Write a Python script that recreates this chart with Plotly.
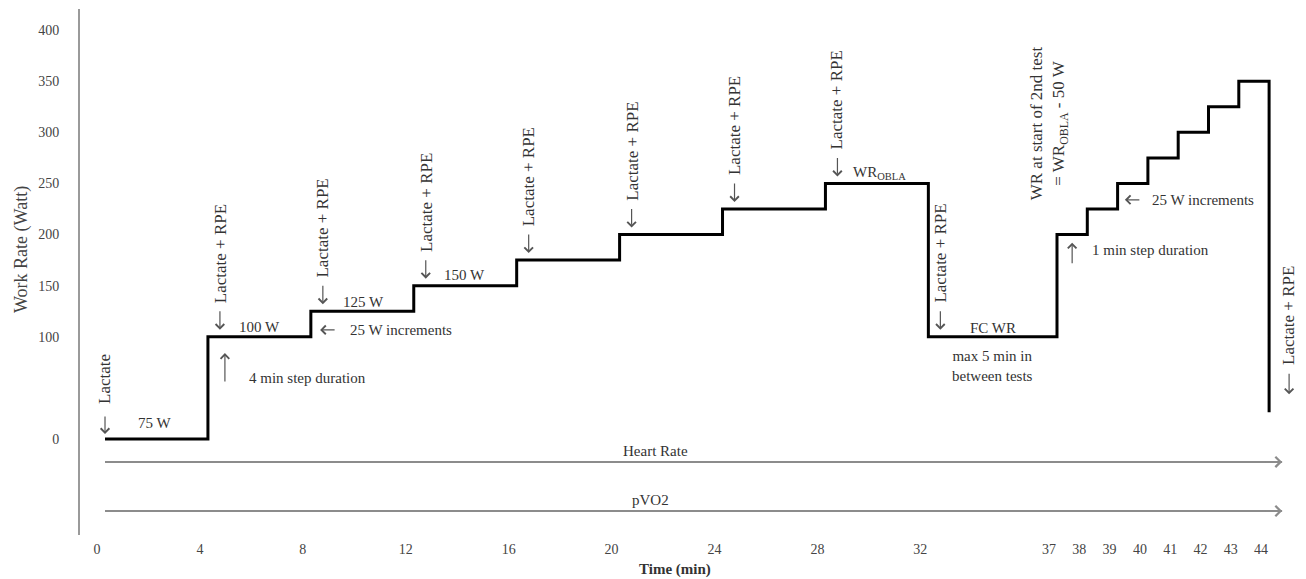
import plotly.graph_objects as go

# ---------------- data ----------------
# Work-rate profile (time in min, work rate in W). The first 75 W stage is drawn on the "0" line.
step_times = [0, 4, 8, 12, 16, 20, 24, 28, 32, 37, 38, 39, 40, 41, 42, 43, 44]
step_watts = [0, 100, 125, 150, 175, 200, 225, 250, 100, 200, 225, 250, 275, 300, 325, 350, 26]

# Blood sampling events
sample_times = [0, 4, 8, 12, 16, 20, 24, 28, 32, 44]
sample_labels = ["Lactate"] + ["Lactate + RPE"] * 9

# Stage labels
stage_text = ["75 W", "100 W", "125 W", "150 W", "WR<sub>OBLA</sub>", "FC WR"]
stage_t = [1.94, 6.0, 10.03, 13.99, 30.1, 34.5]
stage_w = [15.7, 110, 134, 160.5, 260, 108.6]

# Continuous measurements
monitor_labels = ["Heart Rate", "pVO2"]
monitor_levels = [-22.5, -70.5]
monitor_span = [0, 44.43]
monitor_label_t = [21.38, 21.2]

# Axis ticks
x1_ticks = [0, 4, 8, 12, 16, 20, 24, 28, 32]
x2_ticks = [37, 38, 39, 40, 41, 42, 43, 44]
y_ticks = [0, 100, 150, 200, 250, 300, 350, 400]

X1_END = 36.65
SERIF = "Liberation Serif"
TXT = "#333333"
ARR = "#555555"

fig = go.Figure()

# step profile on both time segments (each subplot clips its own part)
for xa in ["x", "x2"]:
    fig.add_trace(go.Scatter(x=step_times, y=step_watts, xaxis=xa, yaxis="y",
                             mode="lines", line=dict(color="black", width=3, shape="hv"),
                             hoverinfo="skip"))
    for lvl in monitor_levels:
        fig.add_trace(go.Scatter(x=monitor_span, y=[lvl, lvl], xaxis=xa, yaxis="y",
                                 mode="lines", line=dict(color="#8c8c8c", width=2),
                                 hoverinfo="skip"))


def xref_for(t):
    return "x" if t <= X1_END else "x2"


def arrow(t, w, ax, ay, standoff=0, xshift=0, color=ARR, width=1.2, size=1.4):
    fig.add_annotation(xref=xref_for(t), yref="y", x=t, y=w, ax=ax, ay=ay,
                       axref="pixel", ayref="pixel", text="", showarrow=True,
                       arrowhead=4, arrowsize=size, arrowwidth=width, arrowcolor=color,
                       standoff=standoff, xshift=xshift)


def label(t, w, text, size=15, xanchor="center", yanchor="middle", angle=0,
          xshift=0, yshift=0, xref=None):
    fig.add_annotation(xref=xref or xref_for(t), yref="y", x=t, y=w, text=text,
                       showarrow=False, textangle=angle, xanchor=xanchor, yanchor=yanchor,
                       xshift=xshift, yshift=yshift,
                       font=dict(family=SERIF, size=size, color=TXT))


# sampling markers
for i, (t, lab) in enumerate(zip(sample_times, sample_labels)):
    lvl = step_watts[step_times.index(t)]
    if i == 0:
        xs, tip, tail, txt = 0, 5, 24, 33
    elif t == step_times[-1]:
        xs, tip, tail, txt = 20, 18, 40, 45
    else:
        xs, tip, tail, txt = 12, 7, 27, 32
    arrow(t, lvl, 0, -tail, standoff=tip, xshift=xs)
    label(t, lvl, lab, size=17, angle=-90, yanchor="bottom", xshift=xs, yshift=txt)

# stage labels
for t, w, s in zip(stage_t, stage_w, stage_text):
    label(t, w, s)

label(34.5, 71.4, "max 5 min in<br>between tests")
label(36.74, 309, "WR at start of 2nd test<br>= WR<sub>OBLA</sub> - 50 W", size=17, angle=-90, xref="x2")

# step duration / increment notes
arrow(4.66, 84, 0, 30)
label(5.52, 60, "4 min step duration", xanchor="left")
arrow(8.36, 106.7, 16, 0)
label(9.44, 107, "25 W increments", xanchor="left")
arrow(37.5, 192, 0, 22)
label(38.09, 185, "1 min step duration", xanchor="left")
arrow(39.24, 234, 16, 0)
label(40.07, 234, "25 W increments", xanchor="left")

# continuous-measurement arrows
for lvl, lab, lt in zip(monitor_levels, monitor_labels, monitor_label_t):
    arrow(monitor_span[1], lvl, -18, 0, color="#8c8c8c", width=2, size=1.0)
    label(lt, lvl + 11, lab, size=15)

# axis titles
fig.add_annotation(xref="paper", yref="paper", x=0.4905, y=-0.0665, text="<b>Time (min)</b>",
                   xanchor="center", yanchor="middle",
                   showarrow=False, font=dict(family=SERIF, size=15, color=TXT))
fig.add_annotation(xref="paper", yref="paper", x=-0.0478, y=0.542, text="Work Rate (Watt)",
                   xanchor="center", yanchor="middle",
                   textangle=-90, showarrow=False, font=dict(family=SERIF, size=18, color="#444"))

xcommon = dict(showgrid=False, zeroline=False, showline=False, ticks="",
               tickfont=dict(family=SERIF, size=14, color="#444"),
               ticklabelstandoff=4, ticklabelshift=-8, fixedrange=True)
# page body has an 8px margin: figure is sized/placed to compensate
fig.update_layout(
    width=1298, height=571,
    margin=dict(l=72, r=13, t=1, b=44),
    paper_bgcolor="white", plot_bgcolor="white",
    showlegend=False,
    font=dict(family=SERIF, color=TXT),
    xaxis=dict(domain=[0, 0.79802], range=[-0.972, X1_END], tickvals=x1_ticks, **xcommon),
    xaxis2=dict(domain=[0.79802, 1], range=[36.703, 44.789], tickvals=x2_ticks, anchor="y", **xcommon),
    yaxis=dict(range=[-94, 420.7], tickvals=y_ticks, showgrid=False, zeroline=False,
               showline=True, linecolor="#9a9a9a", linewidth=2, ticks="",
               ticklabelstandoff=16, tickfont=dict(family=SERIF, size=14, color="#444"),
               fixedrange=True),
)

fig.write_html("out.html")
